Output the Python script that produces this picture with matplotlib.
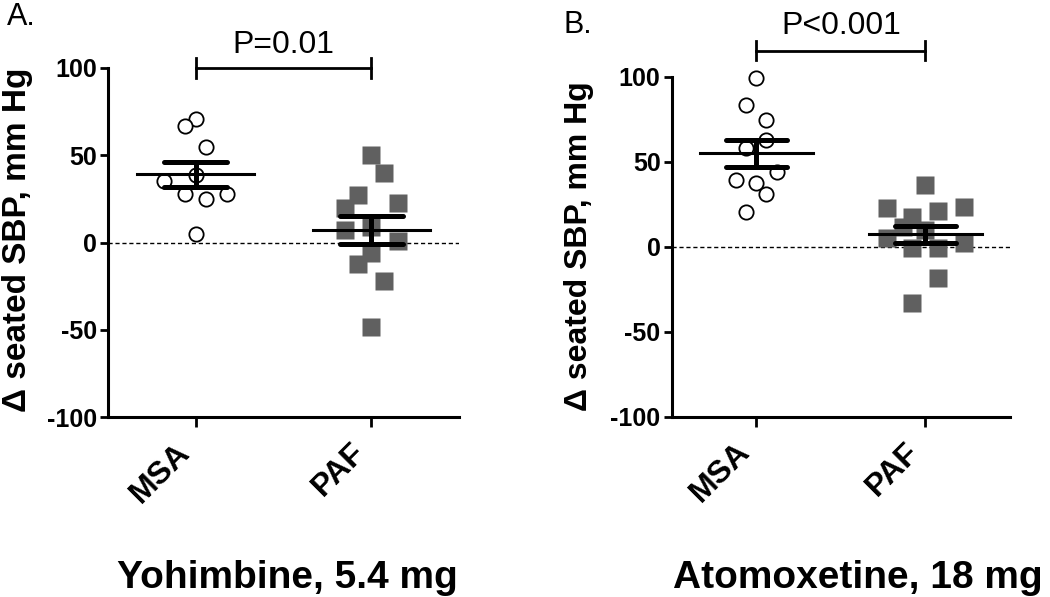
import matplotlib
matplotlib.use('Agg')
import matplotlib.pyplot as plt
import matplotlib.transforms as mtransforms
import numpy as np

plt.rcParams['font.family'] = ['Liberation Sans', 'DejaVu Sans']

groups = ['MSA', 'PAF']
yticks = [-100, -50, 0, 50, 100]

# Panel A - Yohimbine, 5.4 mg
yoh_msa = [71, 67, 55, 35, 38.5, 28, 25, 28, 5]
yoh_msa_dx = [0, -0.06, 0.06, -0.18, 0, -0.06, 0.06, 0.18, 0]
yoh_paf = [50, 39.6, 27, 20, 22.5, 9, 7, 1, -6, -12.3, -21.9, -48.6]
yoh_paf_dx = [0, 0.075, -0.075, -0.15, 0.15, 0, -0.15, 0.15, 0, -0.075, 0.075, 0]

# Panel B - Atomoxetine, 18 mg
ato_msa = [99.4, 83.4, 74.5, 62.8, 58.2, 44.1, 39.2, 37.6, 30.8, 20.6]
ato_msa_dx = [0, -0.06, 0.06, 0.06, -0.06, 0.12, -0.12, 0, 0.06, -0.06]
ato_paf = [36.3, 22.8, 23.1, 17.6, 20.8, 11.6, 9.8, 4.9, -1, -1, 2, -18.6, -33.3]
ato_paf_dx = [0, -0.226, 0.226, -0.077, 0.074, -0.13, 0, -0.226, -0.077, 0.074, 0.226, 0.074, -0.077]


def draw_panel(fig, ax, msa, msa_dx, paf, paf_dx, p_text, bar_y, text_y):
    ax.axhline(0, color='black', lw=1, ls=(0, (3, 2)), zorder=1)
    ax.plot(1 + np.array(msa_dx), msa, 'o', ms=10.3, mfc='white', mec='black', mew=1.3,
            zorder=3, clip_on=False)
    ax.plot(2 + np.array(paf_dx), paf, 's', ms=12.8, mfc='#606060', mec='none', zorder=2,
            clip_on=False)

    # mean +/- SEM
    for x, vals in zip([1, 2], [msa, paf]):
        m = np.mean(vals)
        sem = np.std(vals, ddof=1) / np.sqrt(len(vals))
        ax.plot([x - 0.333, x + 0.333], [m, m], color='black', lw=2.2, zorder=4)
        for v in (m - sem, m + sem):
            ax.plot([x - 0.18, x + 0.18], [v, v], color='black', lw=3.6,
                    solid_capstyle='round', zorder=4)
        ax.plot([x, x], [m - sem, m + sem], color='black', lw=3.6, zorder=4)

    # significance bracket
    ax.plot([1, 2], [bar_y, bar_y], color='black', lw=2, clip_on=False)
    for x in (1, 2):
        ax.plot([x, x], [bar_y - 5.5, bar_y + 5.5], color='black', lw=2, clip_on=False)
    ax.text(1.5, text_y, p_text, ha='center', va='baseline', fontsize=23, clip_on=False)

    ax.set_xlim(0.5, 2.5)
    ax.set_ylim(-100, 100)
    ax.set_yticks(yticks)
    ax.set_yticklabels([str(t) for t in yticks], fontsize=18, fontweight='bold')
    ax.set_xticks([1, 2])
    ax.set_xticklabels(groups, fontsize=23, fontweight='bold', rotation=45, ha='right')
    shift = mtransforms.ScaledTranslation(9 / 100, 0, fig.dpi_scale_trans)
    for lab in ax.get_xticklabels():
        lab.set_transform(lab.get_transform() + shift)
    ax.tick_params(axis='y', length=6, width=2, pad=2)
    ax.tick_params(axis='x', length=7.5, width=2, pad=7)
    for s in ('top', 'right'):
        ax.spines[s].set_visible(False)
    for s in ('left', 'bottom'):
        ax.spines[s].set_linewidth(2.2)


fig = plt.figure(figsize=(10.5, 5.97), dpi=100)
axA = fig.add_axes([0.1029, 0.3015, 0.3343, 0.5846])
axB = fig.add_axes([0.6397, 0.302, 0.3222, 0.5695])

draw_panel(fig, axA, yoh_msa, yoh_msa_dx, yoh_paf, yoh_paf_dx, 'P=0.01', 100, 108.4)
draw_panel(fig, axB, ato_msa, ato_msa_dx, ato_paf, ato_paf_dx, 'P<0.001', 115.3, 125)

ylab = '\u0394 seated SBP, mm Hg'
fig.text(18 / 1050, 1 - 240 / 597, ylab, rotation=90, ha='center', va='center',
         fontsize=24, fontweight='bold')
fig.text(579 / 1050, 1 - 246 / 597, ylab, rotation=90, ha='center', va='center',
         fontsize=23, fontweight='bold')

fig.text(7 / 1050, 1 - 25 / 597, 'A.', fontsize=22, va='baseline')
fig.text(563 / 1050, 1 - 33 / 597, 'B.', fontsize=22, va='baseline')

fig.text(287.5 / 1050, 1 - 588 / 597, 'Yohimbine, 5.4 mg', ha='center', va='baseline',
         fontsize=28, fontweight='bold')
fig.text(858 / 1050, 1 - 588 / 597, 'Atomoxetine, 18 mg', ha='center', va='baseline',
         fontsize=28, fontweight='bold')

fig.savefig('out.png', dpi=100)
